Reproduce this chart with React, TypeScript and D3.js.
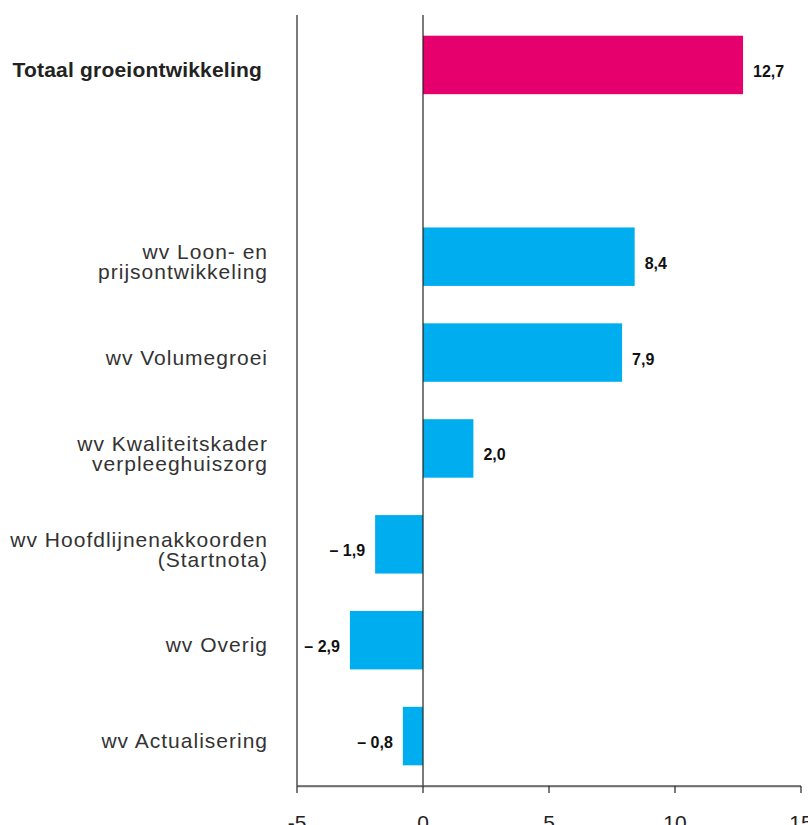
import * as d3 from "d3";
import { useEffect } from "react";

// categories, top to bottom; "" is the empty row between the total and the parts
const categories = [
  "Totaal groeiontwikkeling",
  "",
  "wv Loon- en\nprijsontwikkeling",
  "wv Volumegroei",
  "wv Kwaliteitskader\nverpleeghuiszorg",
  "wv Hoofdlijnenakkoorden\n(Startnota)",
  "wv Overig",
  "wv Actualisering",
];
const values = [12.7, null, 8.4, 7.9, 2.0, -1.9, -2.9, -0.8];
const xTicks = [-5, 0, 5, 10, 15];

const width = 808;
const height = 825;
const totalColor = "#e5006e";
const partColor = "#00aeef";
const lineColor = "#222";

const nl = d3.formatLocale({
  decimal: ",",
  thousands: ".",
  grouping: [3],
  currency: ["", ""],
  minus: "– ",
});
const fmt = nl.format(".1f");

export default function App() {
  useEffect(() => {
    document.body.style.margin = "0";
  }, []);

  const x = d3.scaleLinear().domain([-5, 15]).range([297, 801]);
  const y = d3
    .scaleBand<number>()
    .domain(d3.range(categories.length))
    .range([17, 784])
    .paddingInner(0.39)
    .paddingOuter(0.195);
  const axisY = 786;

  return (
    <svg width={width} height={height} style={{ display: "block" }}>
      {/* bars */}
      {values.map((v, i) =>
        v == null ? null : (
          <rect
            key={"b" + i}
            x={Math.min(x(0), x(v))}
            y={y(i)}
            width={Math.abs(x(v) - x(0))}
            height={y.bandwidth()}
            fill={i === 0 ? totalColor : partColor}
          />
        ),
      )}

      {/* vertical lines at -5 and 0 */}
      <line x1={x(-5)} x2={x(-5)} y1={15} y2={axisY} stroke={lineColor} strokeWidth={1.2} />
      <line x1={x(0)} x2={x(0)} y1={15} y2={axisY} stroke={lineColor} strokeWidth={1.2} />

      {/* bottom axis */}
      <line x1={x(-5)} x2={x(15)} y1={axisY + 0.5} y2={axisY + 0.5} stroke="#bbb" strokeWidth={2} />
      <line x1={x(-5)} x2={x(15)} y1={axisY} y2={axisY} stroke={lineColor} strokeWidth={1} />
      {xTicks.map((t) => (
        <g key={"t" + t}>
          <line x1={x(t)} x2={x(t)} y1={axisY} y2={axisY + 7} stroke={lineColor} strokeWidth={1.2} />
          <text
            x={x(t)}
            y={830}
            textAnchor="middle"
            fontFamily="Liberation Sans, Arial, sans-serif"
            fontSize={21}
            fill="#222"
          >
            {t}
          </text>
        </g>
      ))}

      {/* category labels */}
      {categories.map((c, i) => {
        if (!c) return null;
        const cy = y(i)! + y.bandwidth() / 2;
        if (i === 0) {
          return (
            <text
              key={"c" + i}
              x={262}
              y={cy + 12}
              textAnchor="end"
              fontFamily="Liberation Sans, Arial, sans-serif"
              fontSize={21}
              fontWeight="bold"
              letterSpacing={0.2}
              fill="#222"
            >
              {c}
            </text>
          );
        }
        const lines = c.split("\n");
        const y0 = lines.length > 1 ? cy + 2.5 : cy + 12;
        return (
          <text
            key={"c" + i}
            textAnchor="end"
            fontFamily="Liberation Sans, Arial, sans-serif"
            fontSize={21}
            letterSpacing={1}
            fill="#333"
          >
            {lines.map((l, j) => (
              <tspan key={j} x={268} y={y0 + j * 20}>
                {l}
              </tspan>
            ))}
          </text>
        );
      })}

      {/* value labels */}
      {values.map((v, i) =>
        v == null ? null : (
          <text
            key={"v" + i}
            x={v >= 0 ? x(v) + 10 : x(v) - 10}
            y={y(i)! + y.bandwidth() / 2 + 12}
            textAnchor={v >= 0 ? "start" : "end"}
            fontFamily="Liberation Sans, Arial, sans-serif"
            fontSize={16}
            fontWeight="bold"
            fill="#111"
          >
            {fmt(v)}
          </text>
        ),
      )}
    </svg>
  );
}
